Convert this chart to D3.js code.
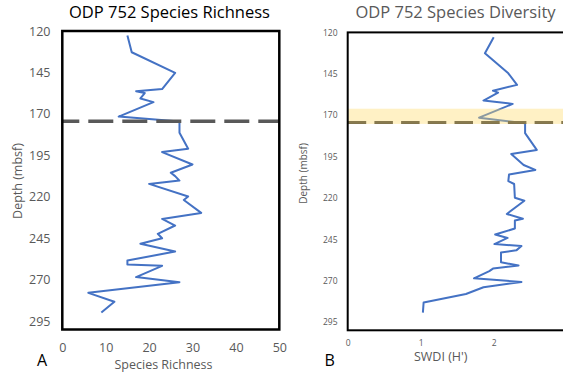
<!DOCTYPE html>
<html>
<head>
<meta charset="utf-8">
<script src="https://cdn.jsdelivr.net/npm/d3@7"></script>
<style>
  html, body { margin: 0; padding: 0; background: #fff; }
  svg { display: block; font-family: "Open Sans", sans-serif; }
</style>
</head>
<body>
<svg id="chart" width="563" height="377"></svg>
<script>
// Sample depths (mbsf) and species richness, ODP Site 752
const richDepth = [122.7, 132.8, 145.3, 155.0, 156.3, 157.4, 160.7, 162.9, 171.6, 174.5,
  181.4, 191.0, 193.0, 200.5, 205.5, 207.5, 210.2, 212.2, 219.8, 221.9, 229.7, 233.3,
  237.3, 242.3, 245.0, 248.3, 253.0, 258.4, 260.8, 261.6, 268.4, 271.5, 277.9, 283.3, 289.8];
const richness = [15, 16, 26, 23, 17, 19, 18, 21, 13, 27,
  27, 29, 23, 30, 25, 26, 27, 20, 29, 28, 32, 23,
  26, 22, 23, 18, 26, 15, 15, 23, 17, 27, 6, 12, 9];

// Sample depths (mbsf) and Shannon-Wiener diversity index
const divDepth = [122.9, 132.6, 144.7, 151.7, 155.2, 156.4, 161.2, 163.2, 171.5, 174.9,
  180.9, 191.0, 193.5, 200.1, 203.1, 205.9, 209.8, 211.6, 219.9, 221.7, 229.7, 232.6,
  233.7, 238.5, 242.1, 244.2, 247.9, 249.1, 251.7, 253.0, 258.9, 260.9, 262.7, 264.2,
  268.6, 270.8, 274.0, 278.1, 283.2, 289.3];
const diversity = [2.00, 1.88, 2.20, 2.32, 1.99, 2.06, 1.86, 2.26, 1.80, 2.43,
  2.43, 2.59, 2.24, 2.41, 2.57, 2.21, 2.20, 2.28, 2.29, 2.42, 2.18, 2.40,
  2.29, 2.29, 2.02, 2.19, 2.01, 2.38, 2.31, 2.10, 2.10, 2.34, 1.99, 1.94,
  1.73, 2.38, 1.86, 1.62, 1.04, 1.03];

// Axis ticks
const depthTicks = [120, 145, 170, 195, 220, 245, 270, 295];
const richTicks = [0, 10, 20, 30, 40, 50];
const divTicks = [0, 1, 2];

// Boundary depth and highlighted interval (mbsf)
const boundaryDepth = [174.4];
const bandDepth = [166.1, 175.3];

const svg = d3.select("#chart");
const lineBlue = "#4472C4";
const textGrey = "#595959";

function drawPanel(cfg) {
  const g = svg.append("g");
  const x = d3.scaleLinear().domain(cfg.xDomain).range([cfg.left, cfg.right]);
  const y = d3.scaleLinear().domain([120, 300]).range([cfg.top, cfg.bottom]);

  // y axis labels
  const ya = g.append("g")
    .attr("transform", `translate(${cfg.yLabelX},0)`)
    .call(d3.axisLeft(y).tickValues(depthTicks).tickFormat(d3.format("d"))
      .tickSize(0).tickPadding(0));
  ya.select(".domain").remove();
  ya.selectAll("text")
    .attr("fill", textGrey)
    .style("font-family", "Open Sans, sans-serif")
    .style("font-size", cfg.tickFont + "px");

  // x axis labels
  const xa = g.append("g")
    .attr("transform", `translate(0,${cfg.xLabelY})`)
    .call(d3.axisBottom(x).tickValues(cfg.xTicks).tickFormat(d3.format("d"))
      .tickSize(0).tickPadding(0));
  xa.select(".domain").remove();
  xa.selectAll("text")
    .attr("fill", textGrey)
    .style("font-family", "Open Sans, sans-serif")
    .style("font-size", cfg.tickFont + "px");

  // data line
  const line = d3.line().x(d => x(d[1])).y(d => y(d[0]));
  g.append("path")
    .datum(d3.zip(cfg.depth, cfg.values))
    .attr("d", line)
    .attr("fill", "none")
    .attr("stroke", lineBlue)
    .attr("stroke-width", 2)
    .attr("stroke-linejoin", "round");

  // boundary dashed line
  g.selectAll("line.boundary")
    .data(boundaryDepth)
    .enter().append("line")
    .attr("class", "boundary")
    .attr("x1", cfg.left).attr("x2", cfg.right)
    .attr("y1", d => y(d)).attr("y2", d => y(d))
    .attr("stroke", cfg.dashColor)
    .attr("stroke-width", cfg.dashWidth)
    .attr("stroke-dasharray", cfg.dash)
    .attr("stroke-dashoffset", cfg.dashOffset);

  if (cfg.band) {
    g.append("rect")
      .attr("x", cfg.left)
      .attr("width", cfg.right - cfg.left)
      .attr("y", y(bandDepth[0]))
      .attr("height", y(bandDepth[1]) - y(bandDepth[0]))
      .attr("fill", "#FFD966")
      .attr("opacity", 0.38);
  }

  // frame
  g.append("rect")
    .attr("x", cfg.left).attr("y", cfg.top)
    .attr("width", cfg.right - cfg.left).attr("height", cfg.bottom - cfg.top)
    .attr("fill", "none")
    .attr("stroke", "#000")
    .attr("stroke-width", cfg.frameWidth);

  // titles and labels
  g.append("text")
    .attr("x", cfg.titleX).attr("y", 18)
    .attr("text-anchor", "middle")
    .attr("fill", cfg.titleColor)
    .style("font-size", "16.5px")
    .text(cfg.title);

  g.append("text")
    .attr("transform", `translate(${cfg.yTitleX},${cfg.yTitleY}) rotate(-90)`)
    .attr("text-anchor", "middle")
    .attr("fill", textGrey)
    .style("font-size", cfg.yTitleFont + "px")
    .text("Depth (mbsf)");

  g.append("text")
    .attr("x", cfg.xTitleX).attr("y", cfg.xTitleY)
    .attr("text-anchor", "middle")
    .attr("fill", textGrey)
    .style("font-size", cfg.xTitleFont + "px")
    .text(cfg.xTitle);

  g.append("text")
    .attr("x", cfg.letterX).attr("y", 365.5)
    .attr("fill", "#000")
    .style("font-size", "16px")
    .text(cfg.letter);
}

drawPanel({
  left: 62.3, right: 279.3, top: 31, bottom: 329.5,
  xDomain: [0, 50], xTicks: richTicks,
  depth: richDepth, values: richness,
  yLabelX: 50.5, xLabelY: 343, tickFont: 12.5,
  dashColor: "#595959", dashWidth: 3.5, dash: "25,9", dashOffset: 8,
  band: false, frameWidth: 2.5,
  title: "ODP 752 Species Richness", titleX: 169.5, titleColor: "#000",
  yTitleX: 22, yTitleY: 181, yTitleFont: 12.5,
  xTitle: "Species Richness", xTitleX: 163.5, xTitleY: 369, xTitleFont: 12.5,
  letter: "A", letterX: 37
});

drawPanel({
  left: 347.7, right: 566.7, top: 32.4, bottom: 330.3,
  xDomain: [0, 3], xTicks: divTicks,
  depth: divDepth, values: diversity,
  yLabelX: 337.5, xLabelY: 340, tickFont: 8.5,
  dashColor: "#404040", dashWidth: 3, dash: "18.5,8.2", dashOffset: 0,
  band: true, frameWidth: 2,
  title: "ODP 752 Species Diversity", titleX: 455.5, titleColor: "#595959",
  yTitleX: 307, yTitleY: 173.5, yTitleFont: 10,
  xTitle: "SWDI (H')", xTitleX: 440.7, xTitleY: 361, xTitleFont: 12.5,
  letter: "B", letterX: 324.5
});
</script>
</body>
</html>
